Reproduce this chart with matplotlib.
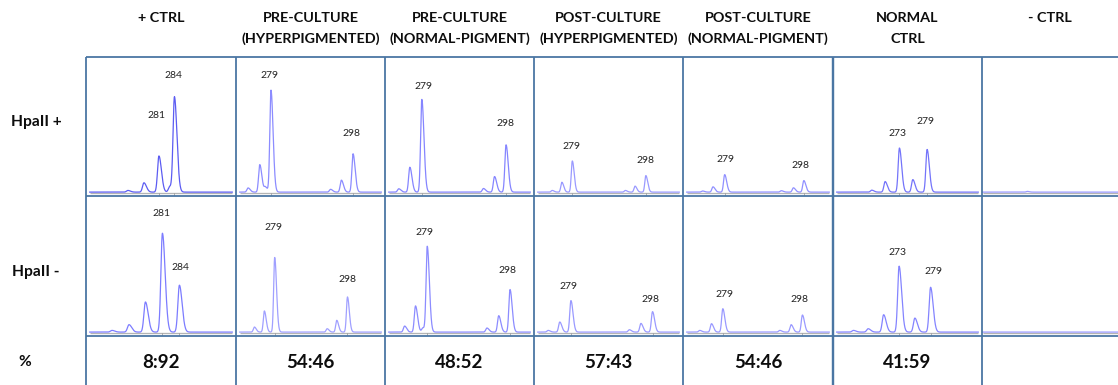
import numpy as np
import matplotlib
matplotlib.use('Agg')
import matplotlib.pyplot as plt

plt.rcParams['font.family'] = ['Lato', 'DejaVu Sans']

# figure size in pixels
W, H = 1118, 385
DPI = 100

COL_TITLES = ['+ CTRL',
              'PRE-CULTURE\n(HYPERPIGMENTED)',
              'PRE-CULTURE\n(NORMAL-PIGMENT)',
              'POST-CULTURE\n(HYPERPIGMENTED)',
              'POST-CULTURE\n(NORMAL-PIGMENT)',
              'NORMAL\nCTRL',
              '- CTRL']
ROW_TITLES = ['HpaII +', 'HpaII -', '%']
RATIOS = ['8:92', '54:46', '48:52', '57:43', '54:46', '41:59', '']

# called fragment sizes (bp) per column
CALLED = [[281, 284], [279, 298], [279, 298], [279, 298], [279, 298],
          [273, 279], []]

# peaks of the HpaII-digested runs: size (bp) and height (fraction of cell)
HPA_POS_SIZES = [
    [275.0, 278.1, 281.0, 283.1, 284.0],
    [273.7, 276.4, 277.7, 279.0, 292.8, 295.3, 298.0],
    [273.8, 276.3, 279.0, 292.9, 295.4, 298.0],
    [273.8, 276.3, 279.0, 292.7, 295.2, 298.0],
    [273.7, 276.2, 279.0, 292.6, 295.5, 298.0],
    [267.0, 269.9, 273.0, 275.9, 279.0],
    [271.0],
]
HPA_POS_HEIGHTS = [
    [0.012, 0.067, 0.26, 0.04, 0.68],
    [0.03, 0.198, 0.035, 0.733, 0.02, 0.086, 0.276],
    [0.024, 0.179, 0.667, 0.026, 0.112, 0.34],
    [0.012, 0.071, 0.224, 0.012, 0.043, 0.119],
    [0.008, 0.038, 0.126, 0.01, 0.031, 0.083],
    [0.014, 0.076, 0.317, 0.09, 0.307],
    [0.005],
]

# peaks of the undigested runs
HPA_NEG_SIZES = [
    [272.1, 275.1, 278.0, 281.0, 284.0],
    [273.7, 276.3, 279.0, 292.7, 295.2, 298.0],
    [273.8, 276.3, 278.0, 279.0, 292.7, 295.4, 298.0],
    [273.7, 276.4, 279.0, 292.6, 295.3, 298.0],
    [273.5, 276.3, 279.0, 292.6, 295.3, 298.0],
    [264.3, 267.1, 270.05, 273.0, 276.0, 279.0],
    [],
]
HPA_NEG_HEIGHTS = [
    [0.012, 0.053, 0.215, 0.706, 0.335],
    [0.036, 0.151, 0.533, 0.024, 0.084, 0.251],
    [0.043, 0.187, 0.03, 0.61, 0.029, 0.117, 0.304],
    [0.012, 0.072, 0.225, 0.017, 0.062, 0.146],
    [0.012, 0.06, 0.167, 0.012, 0.053, 0.122],
    [0.012, 0.024, 0.124, 0.471, 0.10, 0.32],
    [],
]

# ---- layout -------------------------------------------------------------
COL_EDGES = [86, 236, 385, 534, 683, 833, 982, 1118]
ROW_EDGES = [57, 196, 336, 385]
GRID_COLOUR = '#4a76a3'
TEXT_COLOUR = '#0d0d0d'

# bp window (start, span) shown in each trace cell
WINDOWS = [
    [(266.9, 29.0), (270.9, 34.5), (270.7, 33.6), (269.1, 38.5),
     (269.0, 36.0), (258.6, 32.3), (260.0, 33.0)],
    [(267.5, 26.5), (268.9, 38.9), (269.3, 34.2), (270.4, 34.7),
     (269.5, 35.8), (260.4, 28.4), (260.0, 33.0)],
]
# size label positions (bp, fraction of cell height)
LABEL_POS = [
    [[(280.6, 0.576), (283.8, 0.864)],
     [(278.7, 0.869), (297.7, 0.452)],
     [(279.4, 0.790), (297.8, 0.524)],
     [(278.9, 0.357), (297.8, 0.255)],
     [(279.3, 0.262), (297.3, 0.221)],
     [(272.6, 0.452), (278.7, 0.533)],
     []],
    [[(280.9, 0.873), (284.25, 0.486)],
     [(278.8, 0.778), (298.0, 0.400)],
     [(278.3, 0.737), (297.4, 0.467)],
     [(278.5, 0.356), (297.5, 0.263)],
     [(279.35, 0.294), (297.3, 0.258)],
     [(272.6, 0.598), (279.5, 0.462)],
     []],
]
TRACE_COLOURS = [
    ['#5c5cf2', '#8c8cff', '#8585ff', '#9a9aff', '#9090ff', '#7474fa', '#9a9aff'],
    ['#7c7cff', '#a0a0ff', '#8c8cff', '#9a9aff', '#9a9aff', '#8484ff', '#9a9aff'],
]
BASE = 0.028
SIG_L, SIG_R = 0.27, 0.48


def px_rect(x0, y0, x1, y1):
    """figure-fraction rect from pixel corners (y down)"""
    return [x0 / W, 1 - y1 / H, (x1 - x0) / W, (y1 - y0) / H]


def trace(x, sizes, heights):
    y = np.full_like(x, BASE)
    for s, h in zip(sizes, heights):
        sig = np.where(x < s, SIG_L, SIG_R)
        y += h * np.exp(-0.5 * ((x - s) / sig) ** 2)
    return y


fig = plt.figure(figsize=(W / DPI, H / DPI), dpi=DPI)

px = 72.0 / DPI  # one pixel in points

for r, (sizes_all, heights_all) in enumerate([(HPA_POS_SIZES, HPA_POS_HEIGHTS),
                                               (HPA_NEG_SIZES, HPA_NEG_HEIGHTS)]):
    for c in range(7):
        x0, x1 = COL_EDGES[c], COL_EDGES[c + 1]
        y0, y1 = ROW_EDGES[r], ROW_EDGES[r + 1]
        pax = fig.add_axes(px_rect(x0, y0, x1, y1))
        pax.set_axis_off()
        lo, span = WINDOWS[r][c]
        pax.set_xlim(lo, lo + span)
        pax.set_ylim(0, 1)

        xs = np.linspace(lo + 0.025 * span, lo + 0.975 * span, 1200)
        if c == 6:
            xs = np.linspace(lo + 0.005 * span, lo + span, 1200)
        # grey size axis under the trace
        pax.plot([xs[0], xs[-1]], [BASE - 0.01, BASE - 0.01], color='#b4b4b4',
                 lw=1.3 * px, solid_capstyle='butt')
        for s in CALLED[c]:
            pax.plot([s, s], [BASE - 0.01, BASE - 0.03], color='#a0a0a0',
                     lw=0.8 * px)
        pax.plot(xs, trace(xs, sizes_all[c], heights_all[c]),
                 color=TRACE_COLOURS[r][c], lw=1.25 * px)

        for s, (lx, ly) in zip(CALLED[c], LABEL_POS[r][c]):
            pax.text(lx, ly, str(s), ha='center', va='center', fontsize=7.5,
                     color='#222222')

# grid lines and titles on top
ax = fig.add_axes([0, 0, 1, 1])
ax.set_xlim(0, W)
ax.set_ylim(H, 0)
ax.set_axis_off()
ax.patch.set_alpha(0)

for y in ROW_EDGES[:3]:
    ax.plot([COL_EDGES[0], W], [y, y], color=GRID_COLOUR, lw=1.8 * px,
            solid_capstyle='butt')
for x in COL_EDGES[:-1]:
    lw = 2.4 if x == 833 else 1.8
    ax.plot([x, x], [ROW_EDGES[0], H], color=GRID_COLOUR, lw=lw * px,
            solid_capstyle='butt')

# column headers, one text per line
for c, title in enumerate(COL_TITLES):
    cx = (COL_EDGES[c] + COL_EDGES[c + 1]) / 2.0
    for i, line in enumerate(title.split('\n')):
        ax.text(cx, 18 + 21 * i, line, ha='center', va='center',
                fontsize=10.4, fontweight='bold', color=TEXT_COLOUR)

row_y = [122, 272, 362]
row_x = [36, 36, 25]
for t, yy, xx in zip(ROW_TITLES, row_y, row_x):
    ax.text(xx, yy, t, ha='center', va='center', fontsize=11.2,
            fontweight='bold', color=TEXT_COLOUR)

for c, ratio in enumerate(RATIOS):
    cx = (COL_EDGES[c] + COL_EDGES[c + 1]) / 2.0
    ax.text(cx, 362, ratio, ha='center', va='center', fontsize=13.5,
            fontweight='bold', color=TEXT_COLOUR)

fig.savefig('out.png', dpi=DPI)
